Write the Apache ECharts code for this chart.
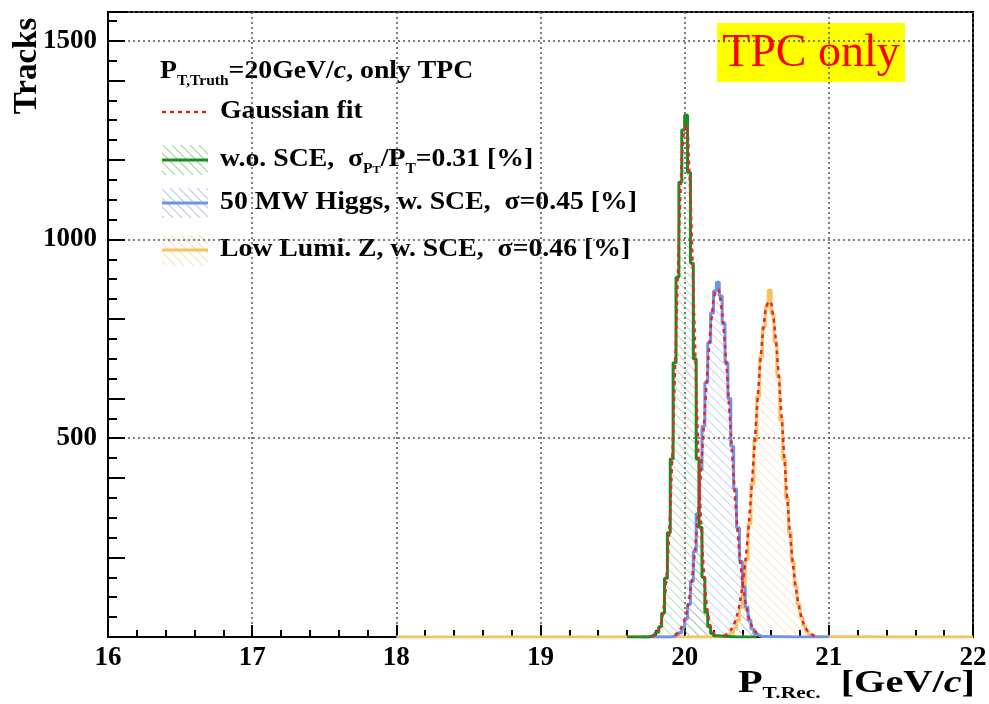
<!DOCTYPE html>
<html>
<head>
<meta charset="utf-8">
<script src="https://cdn.jsdelivr.net/npm/echarts@6/dist/echarts.min.js"></script>
<style>html,body{margin:0;padding:0;background:#fff;}#c{width:989px;height:704px;}</style>
</head>
<body>
<div id="c"></div>
<script>
// ---------- data ----------
const binWidth = 0.02;
const histMin = 18, histMax = 22;
const xTicks = [16, 17, 18, 19, 20, 21, 22];
const yTicks = [500, 1000, 1500];

// w.o. SCE (green)  — first bin left edge
const greenStart = 19.76;
const greenCounts = [2, 5, 12, 26, 60, 148, 262, 448, 690, 905, 1144, 1275, 1312, 1169, 940, 700, 448, 276, 150, 62, 26, 9, 3];
const greenFit    = [1, 4, 11, 27, 63, 130, 244, 414, 635, 881, 1106, 1254, 1287, 1192, 1000, 758, 519, 322, 180, 91, 42, 17, 7];

// 50 MW Higgs, w. SCE (blue)
const blueStart = 19.92;
const blueCounts = [2, 5, 11, 24, 45, 82, 140, 215, 310, 420, 530, 640, 740, 815, 870, 892, 858, 790, 690, 600, 480, 372, 275, 190, 125, 75, 42, 20, 8, 3, 1];
const blueFit    = [5, 10, 19, 34, 57, 93, 143, 212, 298, 401, 513, 628, 732, 814, 864, 874, 843, 776, 682, 571, 456, 348, 253, 175, 116, 73, 44, 25, 14, 7, 4];

// Low Lumi. Z, w. SCE (orange)
const orangeStart = 20.26;
const orangeCounts = [2, 3, 5, 11, 22, 42, 75, 125, 195, 285, 385, 495, 605, 705, 780, 830, 872, 812, 742, 655, 545, 445, 348, 262, 188, 128, 82, 50, 27, 13, 6, 2, 1];
const orangeFit    = [3, 7, 13, 23, 40, 65, 103, 155, 223, 308, 406, 513, 619, 715, 789, 835, 844, 816, 755, 669, 566, 459, 355, 264, 187, 127, 82, 51, 30, 17, 9, 5, 2];

const legendLabels = {
  header: '{b|P}{s|T,Truth}{b|=20GeV/}{i|c}{b|, only TPC}',
  fit: '{b|Gaussian fit}',
  green: '{b|w.o. SCE,  σ}{s|P}{ss|T}{b|/P}{s|T}{b|=0.31 [%]}',
  blue: '{b|50 MW Higgs, w. SCE,  σ=0.45 [%]}',
  orange: '{b|Low Lumi. Z, w. SCE,  σ=0.46 [%]}'
};

// ---------- helpers ----------
const FONT = "'Liberation Serif','Times New Roman',serif";
function histPoints(start, counts, padLeft, padRight) {
  const pts = [];
  const c0 = start + binWidth / 2;
  if (padLeft != null) pts.push([padLeft, 0]);
  pts.push([+(c0 - binWidth).toFixed(4), 0]);
  counts.forEach((v, i) => pts.push([+(c0 + i * binWidth).toFixed(4), v]));
  pts.push([+(c0 + counts.length * binWidth).toFixed(4), 0]);
  if (padRight != null) pts.push([padRight, 0]);
  return pts;
}
function fitPoints(start, vals) {
  const c0 = start + binWidth / 2;
  return vals.map((v, i) => [+(c0 + i * binWidth).toFixed(4), v]);
}
function hatch(color) {
  const c = document.createElement('canvas');
  c.width = 9; c.height = 9;
  const g = c.getContext('2d');
  g.strokeStyle = color; g.lineWidth = 1.1;
  g.beginPath();
  g.moveTo(-2, -2); g.lineTo(11, 11);
  g.moveTo(-2, 7); g.lineTo(2, 11);
  g.moveTo(7, -2); g.lineTo(11, 2);
  g.stroke();
  return { image: c, repeat: 'repeat' };
}
const cGreen = '#1e8c1e', cBlue = '#6f93ea', cOrange = '#f6c25c', cRed = '#e5262f';
const hGreen = hatch('rgba(90,175,90,0.55)');
const hBlue = hatch('rgba(130,150,225,0.55)');
const hOrange = hatch('rgba(245,200,140,0.6)');

function histSeries(name, pts, color, pattern) {
  return {
    name, type: 'line', step: 'middle', data: pts, symbol: 'none', silent: true,
    lineStyle: { color, width: 3 }, itemStyle: { color },
    areaStyle: { color: pattern, origin: 'start' }
  };
}
function fitSeries(name, pts) {
  return {
    name, type: 'line', data: pts, smooth: true, symbol: 'none', silent: true,
    lineStyle: { color: cRed, width: 2.5, type: [4, 4] }
  };
}

const rich = {
  b: { fontFamily: FONT, fontWeight: 'bold', fontSize: 25, lineHeight: 32, color: '#000' },
  i: { fontFamily: FONT, fontWeight: 'bold', fontStyle: 'italic', fontSize: 25, lineHeight: 32, color: '#000' },
  s: { fontFamily: FONT, fontWeight: 'bold', fontSize: 14, lineHeight: 14, verticalAlign: 'bottom', color: '#000' },
  ss: { fontFamily: FONT, fontWeight: 'bold', fontSize: 11, lineHeight: 11, verticalAlign: 'bottom', color: '#000' }
};
const richBig = {
  b: { fontFamily: FONT, fontWeight: 'bold', fontSize: 32, lineHeight: 36, color: '#000' },
  i: { fontFamily: FONT, fontWeight: 'bold', fontStyle: 'italic', fontSize: 32, lineHeight: 36, color: '#000' },
  s: { fontFamily: FONT, fontWeight: 'bold', fontSize: 17, lineHeight: 17, verticalAlign: 'bottom', color: '#000' }
};

const SX = 1.11;
function legendText(y, text) {
  return { type: 'text', x: 220, y, scaleX: SX, silent: true,
    style: { text, rich, align: 'left', verticalAlign: 'middle' } };
}
function legendBox(y, pattern, color) {
  return [
    { type: 'rect', shape: { x: 162, y: y - 15, width: 46, height: 30 }, silent: true, style: { fill: pattern } },
    { type: 'line', shape: { x1: 162, y1: y, x2: 208, y2: y }, silent: true, style: { stroke: color, lineWidth: 3 } }
  ];
}

const chart = echarts.init(document.getElementById('c'), null, { renderer: 'canvas' });
const yMax = 1572;
chart.setOption({
  animation: false,
  backgroundColor: '#fff',
  grid: { left: 108, right: 16, top: 12, bottom: 67, show: true, borderColor: '#000', borderWidth: 2, backgroundColor: 'transparent', outerBoundsMode: 'none', containLabel: false },
  xAxis: {
    type: 'value', min: xTicks[0], max: xTicks[xTicks.length - 1], interval: 1,
    axisLine: { show: true, onZero: false, lineStyle: { color: '#000', width: 2 } },
    axisTick: { show: true, inside: true, length: 12, lineStyle: { color: '#000', width: 2 } },
    minorTick: { show: true, splitNumber: 5, length: 7, lineStyle: { color: '#000', width: 2 } },
    axisLabel: { show: true, margin: 8, fontFamily: FONT, fontWeight: 'bold', fontSize: 27, color: '#000',
      formatter: v => xTicks.includes(Math.round(v)) ? String(Math.round(v)) : '' },
    splitLine: { show: true, lineStyle: { color: '#555', width: 1.5, type: [2, 3] } }
  },
  yAxis: [
    {
      type: 'value', min: 0, max: yMax, interval: 500, position: 'left', offset: 0,
      axisLine: { show: true, lineStyle: { color: '#000', width: 2 } },
      axisTick: { show: true, inside: true, length: 17, lineStyle: { color: '#000', width: 2 } },
      axisLabel: { show: true, margin: 11, fontFamily: FONT, fontWeight: 'bold', fontSize: 27, color: '#000',
        formatter: v => yTicks.includes(v) ? String(v) : '' },
      splitLine: { show: true, lineStyle: { color: '#555', width: 1.5, type: [2, 3] } }
    },
    {
      type: 'value', min: 0, max: yMax, interval: 200, position: 'left', offset: 0,
      axisLine: { show: false }, axisLabel: { show: false }, splitLine: { show: false },
      axisTick: { show: true, inside: true, length: 17, lineStyle: { color: '#000', width: 2 } }
    },
    {
      type: 'value', min: 0, max: yMax, interval: 50, position: 'left', offset: 0,
      axisLine: { show: false }, axisLabel: { show: false }, splitLine: { show: false },
      axisTick: { show: true, inside: true, length: 9, lineStyle: { color: '#000', width: 2 } }
    }
  ],
  series: [
    histSeries('Low Lumi. Z, w. SCE', histPoints(orangeStart, orangeCounts, histMin, histMax), cOrange, hOrange),
    histSeries('50 MW Higgs, w. SCE', histPoints(blueStart, blueCounts, 19.7, 21.0), cBlue, hBlue),
    histSeries('w.o. SCE', histPoints(greenStart, greenCounts, 19.6, 20.5), cGreen, hGreen),
    fitSeries('fit orange', fitPoints(orangeStart, orangeFit)),
    fitSeries('fit blue', fitPoints(blueStart, blueFit)),
    fitSeries('fit green', fitPoints(greenStart, greenFit))
  ],
  graphic: [
    { type: 'text', x: 160, y: 72, scaleX: SX, silent: true, style: { text: legendLabels.header, rich, align: 'left', verticalAlign: 'middle' } },
    { type: 'line', shape: { x1: 162, y1: 112, x2: 208, y2: 112 }, silent: true, style: { stroke: cRed, lineWidth: 2.5, lineDash: [4, 4] } },
    legendText(112, legendLabels.fit),
    ...legendBox(160, hGreen, cGreen),
    legendText(160, legendLabels.green),
    ...legendBox(203, hBlue, cBlue),
    legendText(203, legendLabels.blue),
    ...legendBox(250, hOrange, cOrange),
    legendText(250, legendLabels.orange),
    { type: 'rect', shape: { x: 717, y: 23, width: 188, height: 59 }, silent: true, style: { fill: '#ffff00' } },
    { type: 'text', x: 811, y: 54, silent: true, style: { text: 'TPC only', fontFamily: FONT, fontSize: 46, fill: '#ff0000', align: 'center', verticalAlign: 'middle' } },
    { type: 'text', x: 27, y: 66, rotation: Math.PI / 2, silent: true, style: { text: 'Tracks', fontFamily: FONT, fontWeight: 'bold', fontSize: 33, fill: '#000', align: 'center', verticalAlign: 'middle' } },
    { type: 'text', x: 975, y: 684, scaleX: 1.26, silent: true, style: { text: '{b|P}{s|T.Rec.}{b|  [GeV/}{i|c}{b|]}', rich: richBig, align: 'right', verticalAlign: 'middle' } }
  ]
});
</script>
</body>
</html>
